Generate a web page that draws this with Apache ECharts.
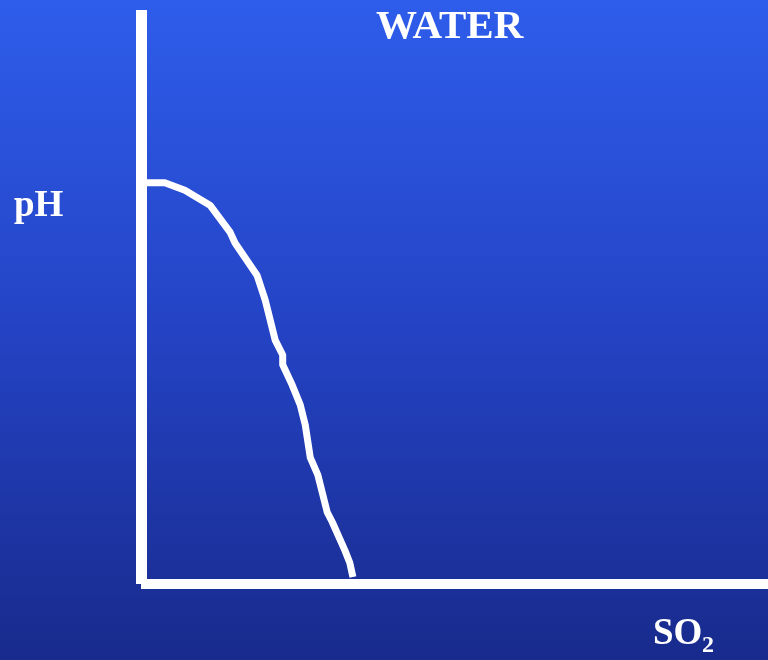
<!DOCTYPE html>
<html>
<head>
<meta charset="utf-8">
<script src="https://cdn.jsdelivr.net/npm/echarts@6/dist/echarts.min.js"></script>
<style>
html,body{margin:0;padding:0;}
#chart{width:768px;height:660px;}
</style>
</head>
<body>
<div id="chart"></div>
<script>
// Curve (arbitrary units: x = SO2, y = pH)
const so2 = [0.96, 3.8, 7.0, 11.0, 14.2, 15.0, 18.5, 19.8, 20.6, 21.4, 22.6, 22.6, 24.1, 25.4, 26.2, 27.0, 28.2, 29.7, 30.5, 32.5, 33.3, 33.8];
const ph  = [69.9, 69.9, 68.6, 66.0, 61.3, 59.4, 53.8, 49.5, 46.0, 42.5, 39.9, 38.2, 34.7, 31.2, 27.7, 22.0, 19.0, 12.5, 10.8, 5.9, 3.7, 1.2];
const titleText = 'WATER';
const yLabel = 'pH';
const xLabelMain = 'SO';
const xLabelSub = '2';

const chart = echarts.init(document.getElementById('chart'));
const font = '"Liberation Serif", "Times New Roman", serif';
chart.setOption({
  animation: false,
  backgroundColor: {
    type: 'linear', x: 0, y: 0, x2: 0, y2: 1,
    colorStops: [
      {offset: 0, color: '#2e5deb'},
      {offset: 0.5, color: '#2443c4'},
      {offset: 1, color: '#182a8c'}
    ]
  },
  grid: {left: 141, right: 0, top: 10, bottom: 76},
  xAxis: {
    type: 'value', min: 0, max: 100,
    axisLine: {show: true, onZero: false, lineStyle: {color: '#ffffff', width: 10, cap: 'butt'}},
    axisTick: {show: false}, axisLabel: {show: false}, splitLine: {show: false}
  },
  yAxis: {
    type: 'value', min: 0, max: 100,
    axisLine: {show: true, onZero: false, lineStyle: {color: '#ffffff', width: 11, cap: 'butt'}},
    axisTick: {show: false}, axisLabel: {show: false}, splitLine: {show: false}
  },
  series: [{
    type: 'line',
    data: so2.map((x, i) => [x, ph[i]]),
    symbol: 'none',
    smooth: false,
    lineStyle: {color: '#ffffff', width: 7, cap: 'butt', join: 'round'}
  }],
  graphic: [
    {type: 'text', left: 376, top: 7, style: {text: titleText, fill: '#ffffff', font: 'bold 41px ' + font}},
    {type: 'text', left: 14, top: 188, style: {text: yLabel, fill: '#ffffff', font: 'bold 37px ' + font}},
    {type: 'text', left: 653, top: 616, style: {text: xLabelMain, fill: '#ffffff', font: 'bold 37px ' + font}},
    {type: 'text', left: 702, top: 634, style: {text: xLabelSub, fill: '#ffffff', font: 'bold 24px ' + font}}
  ]
});
</script>
</body>
</html>
